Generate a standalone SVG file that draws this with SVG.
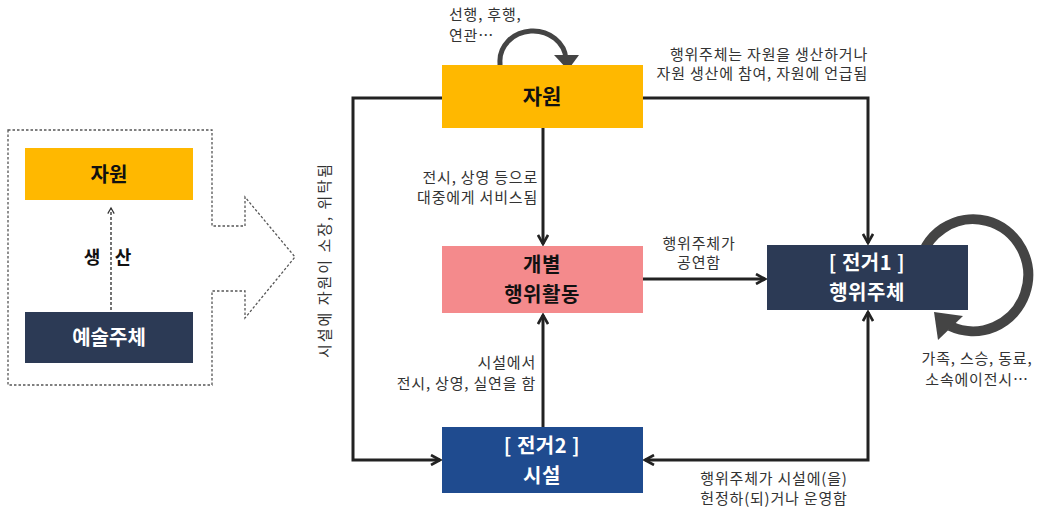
<svg xmlns="http://www.w3.org/2000/svg" width="1037" height="511" viewBox="0 0 1037 511">
<defs>
<style>
text{font-family:"Noto Sans CJK KR","Noto Sans",sans-serif;}
.lbl{font-size:15px;letter-spacing:0.8px;fill:#333;}
.big{font-size:21px;font-weight:700;text-anchor:middle;}
.two{font-size:20px;letter-spacing:0.5px;}
.blk{fill:#111;}
.wht{fill:#fff;}
.con{fill:none;stroke:#222;stroke-width:3;}
.loop{fill:none;stroke:#444;}
</style>
<marker id="ah" viewBox="0 0 12 12" refX="10" refY="6" markerWidth="12" markerHeight="12" markerUnits="userSpaceOnUse" orient="auto-start-reverse">
<path d="M1,1 L10,6 L1,11" fill="none" stroke="#222" stroke-width="2.6"/>
</marker>
<marker id="ahs" viewBox="0 0 10 10" refX="8" refY="5" markerWidth="8" markerHeight="8" markerUnits="userSpaceOnUse" orient="auto">
<path d="M1,1 L8,5 L1,9" fill="none" stroke="#333" stroke-width="1.5"/>
</marker>
</defs>
<rect width="1037" height="511" fill="#fff"/>

<!-- left summary panel -->
<g id="summary">
<path d="M8,130 H212 V226 H245 V197 L295,257 L245,318 V291 H212 V385 H8 Z" fill="none" stroke="#555" stroke-width="1.3" stroke-dasharray="2.5,2"/>
<g id="s-resource">
<rect x="25" y="148" width="168" height="52" fill="#FFB800"/>
<text x="109" y="182" class="big blk" style="font-size:20px">자원</text>
</g>
<g id="s-artist">
<rect x="25" y="312" width="168" height="51" fill="#2C3A55"/>
<text x="109" y="345" class="big wht" style="font-size:20px">예술주체</text>
</g>
<line x1="111" y1="310" x2="111" y2="208" stroke="#444" stroke-width="1.5" stroke-dasharray="3,2" marker-end="url(#ahs)"/>
<text x="92" y="264" class="big blk" style="font-size:18px">생</text>
<text x="123" y="264" class="big blk" style="font-size:18px">산</text>
</g>

<!-- self loops -->
<g id="loops">
<path class="loop" stroke-width="5" d="M500,68 V63 A33,30 0 0 1 566,59"/>
<polygon points="554,55 579,55 568,70" fill="#444"/>
<path class="loop" stroke-width="10" d="M918.8,266.6 A55,56 0 1 1 950,326"/>
<polygon points="934,312 938,340 963,316" fill="#444"/>
</g>

<!-- connectors -->
<g id="connectors">
<polyline class="con" points="643,98 868,98 868,243" marker-end="url(#ah)"/>
<polyline class="con" points="442,98 353,98 353,460 440,460" marker-end="url(#ah)"/>
<line class="con" x1="543" y1="128" x2="543" y2="244" marker-end="url(#ah)"/>
<line class="con" x1="643" y1="279" x2="765" y2="279" marker-end="url(#ah)"/>
<line class="con" x1="543" y1="427" x2="543" y2="315" marker-end="url(#ah)"/>
<polyline class="con" points="645,460 868,460 868,312" marker-start="url(#ah)" marker-end="url(#ah)"/>
</g>

<!-- nodes -->
<g id="n-resource">
<rect x="442" y="65" width="201" height="63" fill="#FFB800"/>
<text x="542" y="104" class="big blk">자원</text>
</g>
<g id="n-activity">
<rect x="442" y="246" width="201" height="67" fill="#F48A8C"/>
<text x="542" y="272" class="big blk two">개별</text>
<text x="542" y="302" class="big blk two">행위활동</text>
</g>
<g id="n-actor">
<rect x="767" y="245" width="201" height="65" fill="#2C3A55"/>
<text x="867" y="270" class="big wht two">[ 전거1 ]</text>
<text x="867" y="300" class="big wht two">행위주체</text>
</g>
<g id="n-facility">
<rect x="442" y="427" width="201" height="66" fill="#1F4B8F"/>
<text x="542" y="453" class="big wht two">[ 전거2 ]</text>
<text x="542" y="483" class="big wht two">시설</text>
</g>

<!-- labels -->
<g id="labels">
<text x="449" y="20" class="lbl">선행, 후행,</text>
<text x="449" y="41" class="lbl">연관…</text>
<text x="868" y="60" class="lbl" text-anchor="end">행위주체는 자원을 생산하거나</text>
<text x="868" y="79" class="lbl" text-anchor="end">자원 생산에 참여, 자원에 언급됨</text>
<text x="538" y="183" class="lbl" text-anchor="end">전시, 상영 등으로</text>
<text x="538" y="203" class="lbl" text-anchor="end">대중에게 서비스됨</text>
<text x="699" y="249" class="lbl" text-anchor="middle">행위주체가</text>
<text x="699" y="268" class="lbl" text-anchor="middle">공연함</text>
<text x="536" y="368" class="lbl" text-anchor="end">시설에서</text>
<text x="536" y="389" class="lbl" text-anchor="end">전시, 상영, 실연을 함</text>
<text x="774" y="484" class="lbl" text-anchor="middle">행위주체가 시설에(을)</text>
<text x="774" y="504" class="lbl" text-anchor="middle">헌정하(되)거나 운영함</text>
<text x="977" y="364" class="lbl" text-anchor="middle">가족, 스승, 동료,</text>
<text x="977" y="385" class="lbl" text-anchor="middle">소속에이전시…</text>
<text x="0" y="0" class="lbl" text-anchor="middle" style="font-size:15px;letter-spacing:2px" transform="translate(330,260) rotate(-90)">시설에 자원이 소장, 위탁됨</text>
</g>
</svg>
